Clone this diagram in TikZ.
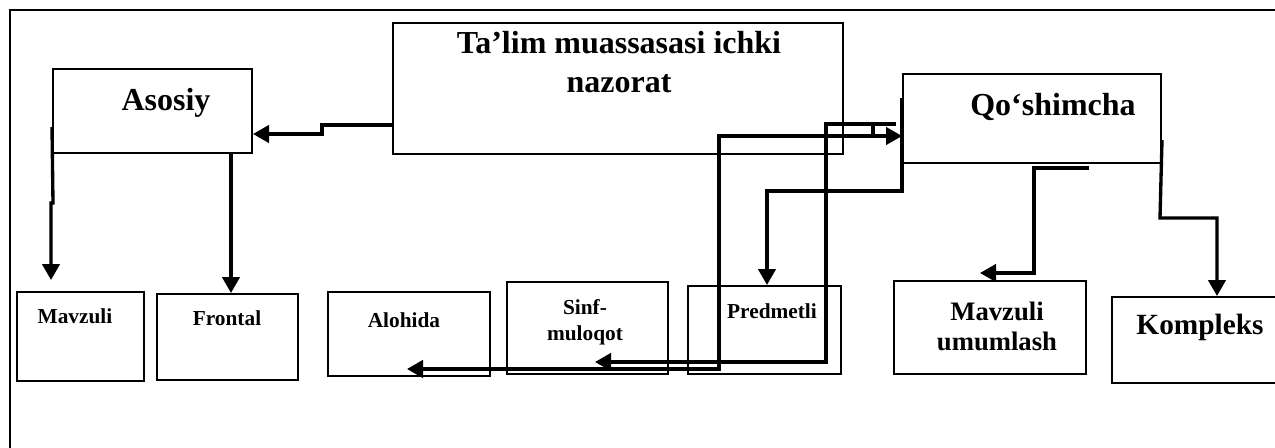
\documentclass[tikz,border=0pt]{standalone}
\usepackage{fontspec}
\setmainfont{Liberation Serif}
\usetikzlibrary{arrows.meta, fit}

\tikzset{
  box/.style={draw, line width=1.5pt, inner sep=0pt},
  conn/.style={line width=2.5pt},
  tip/.tip={Triangle[length=12pt, width=13pt]},
  arr/.style={conn, -tip},
  lbl/.style={inner sep=0pt, align=center, anchor=base,
    font=\bfseries\fontsize{16}{19.5}\selectfont},
  big/.style={lbl, font=\bfseries\fontsize{24}{29}\selectfont},
}

\begin{document}
\begin{tikzpicture}[x=0.75pt, y=-0.75pt]
  \clip (0,0) rectangle (1275,447);

  % Frame:
  \draw [line width=1.1pt] (10,460) -- (10,10) -- (1290,10);

  % Top row boxes:
  \node [box, fit={(393,23) (843,154)}]  (talim) {};
  \node [box, fit={(53,69) (252,153)}]   (asosiy) {};
  \node [box, fit={(903,74) (1161,163)}] (qoshimcha) {};

  % (base of a two-line text is its last line)
  \node [big] (talim-t)     at (619,92)  {Ta’lim muassasasi ichki\\nazorat};
  \node [big] (asosiy-t)    at (166,110) {Asosiy};
  \node [big] (qoshimcha-t) at (1053,115) {Qo‘shimcha};

  % Bottom row boxes:
  \node [box, fit={(17,292) (144,381)}]   (mavzuli) {};
  \node [box, fit={(157,294) (298,380)}]  (frontal) {};
  \node [box, fit={(328,292) (490,376)}]  (alohida) {};
  \node [box, fit={(507,282) (668,374)}]  (sinf) {};
  \node [box, fit={(688,286) (841,374)}]  (predmetli) {};
  \node [box, fit={(894,281) (1086,374)}] (umumlash) {};
  \node [box, fit={(1112,297) (1300,383)}] (kompleks) {};

  \node [lbl] (mavzuli-t)   at (75,323)  {Mavzuli};
  \node [lbl] (frontal-t)   at (227,325) {Frontal};
  \node [lbl] (alohida-t)   at (404,327) {Alohida};
  \node [lbl] (sinf-t)      at (585,340) {Sinf-\\muloqot};
  \node [lbl] (predmetli-t) at (772,318) {Predmetli};
  \node [lbl, font=\bfseries\fontsize{20}{22.5}\selectfont] (umumlash-t) at (997,350) {Mavzuli\\umumlash};
  \node [lbl, font=\bfseries\fontsize{22}{26}\selectfont] (kompleks-t) at (1200,334) {Kompleks};

  % Free ends of the connectors:
  \coordinate (mavzuli-in)  at (51,280);
  \coordinate (alohida-in)  at (407,369);
  \coordinate (sinf-in)     at (595,362);
  \coordinate (q-out)       at (896,124);
  \coordinate (u-out)       at (1089,168);
  \coordinate (umumlash-in) at (980,273);

  % Connectors:
  \draw [arr] (talim.west |- 0,125) -- (322,125) -- (322,134) -- (asosiy.east |- 0,134);
  \draw [arr] (asosiy.west |- 0,127) -- (53,203) -- (51,203) -- (mavzuli-in);
  \draw [arr] (asosiy.south -| 231,0) -- (frontal.north -| 231,0);

  \draw [arr] (qoshimcha.west |- 0,98) -- (qoshimcha.west |- 0,191) -| (predmetli.north -| 767,0);
  \draw [conn, tip-tip] (alohida-in) -- (719,369) -- (719,136) -- (qoshimcha.west |- 0,136);
  \draw [arr] (q-out) -- (826,124) -- (826,362) -- (sinf-in);
  \draw [conn] (873,124) -- (873,136);
  \draw [arr] (u-out) -- (1034,168) -- (1034,273) -- (umumlash-in);
  \draw [arr] (qoshimcha.east |- 0,140) -- (1160,218) -- (1217,218) -- (kompleks.north -| 1217,0);
\end{tikzpicture}
\end{document}
